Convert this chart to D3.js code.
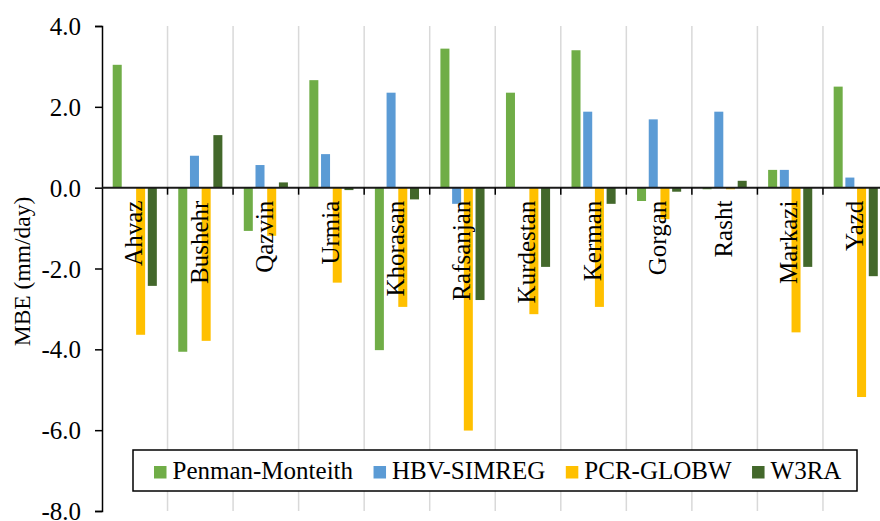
<!DOCTYPE html>
<html>
<head>
<meta charset="utf-8">
<script src="https://d3js.org/d3.v7.min.js"></script>
<style>
  body { margin: 0; background: #fff; }
  svg text { font-family: 'Liberation Serif', 'Times New Roman', 'DejaVu Serif', serif !important; }
</style>
</head>
<body>
<script>
// stations on the x axis
var stations = ["Ahvaz", "Bushehr", "Qazvin", "Urmia", "Khorasan", "Rafsanjan",
                "Kurdestan", "Kerman", "Gorgan", "Rasht", "Markazi", "Yazd"];
var seriesNames = ["Penman-Monteith", "HBV-SIMREG", "PCR-GLOBW", "W3RA"];
// MBE (mm/day) per station
var penman = [3.04, -4.06, -1.07, 2.66, -4.02, 3.44, 2.35, 3.40, -0.33, -0.04, 0.44, 2.50];
var hbv    = [0.00, 0.79, 0.56, 0.83, 2.35, -0.40, 0.00, 1.88, 1.69, 1.88, 0.44, 0.25];
var pcr    = [-3.64, -3.79, -1.19, -2.35, -2.95, -6.01, -3.13, -2.95, -0.78, -0.04, -3.58, -5.18];
var w3ra   = [-2.43, 1.30, 0.13, -0.06, -0.29, -2.78, -1.96, -0.40, -0.10, 0.17, -1.96, -2.19];
var yTicks = [-8, -6, -4, -2, 0, 2, 4];
var colors = ["#70ad47", "#5b9bd5", "#ffc000", "#43682b"];

var allSeries = [penman, hbv, pcr, w3ra];
var W = 880, H = 521;
var plot = {left: 102, right: 888.5, top: 26, bottom: 511};
var serif = "'Liberation Serif', 'Times New Roman', 'DejaVu Serif', serif";

var svg = d3.select("body").append("svg")
  .attr("width", W)
  .attr("height", H)
  .style("font-family", serif);

var x0 = d3.scaleBand()
  .domain(stations)
  .range([plot.left, plot.right])
  .padding(0);
var x1 = d3.scaleBand()
  .domain(seriesNames)
  .range([0, x0.bandwidth()])
  .paddingInner(0.23)
  .paddingOuter(0.915);
var y = d3.scaleLinear()
  .domain([-8, 4])
  .range([plot.bottom, plot.top]);
var color = d3.scaleOrdinal().domain(seriesNames).range(colors);

// vertical gridlines between stations
svg.append("g").selectAll("line")
  .data(stations.slice(1))
  .enter().append("line")
  .attr("x1", function(d){ return x0(d); })
  .attr("x2", function(d){ return x0(d); })
  .attr("y1", plot.top)
  .attr("y2", plot.bottom)
  .attr("stroke", "#d9d9d9")
  .attr("stroke-width", 1.5);

// bars
var rows = [];
stations.forEach(function(s, i){
  seriesNames.forEach(function(n, j){
    rows.push({station: s, series: n, value: allSeries[j][i]});
  });
});
svg.append("g").selectAll("rect")
  .data(rows)
  .enter().append("rect")
  .attr("x", function(d){ return x0(d.station) + x1(d.series); })
  .attr("width", x1.bandwidth())
  .attr("y", function(d){ return y(Math.max(0, d.value)); })
  .attr("height", function(d){ return Math.abs(y(d.value) - y(0)); })
  .attr("fill", function(d){ return color(d.series); });

// y axis
var yAx = d3.axisLeft(y)
  .tickValues(yTicks)
  .tickSize(7)
  .tickPadding(14)
  .tickFormat(function(d){ return d.toFixed(1); });
var yG = svg.append("g")
  .attr("transform", "translate(" + plot.left + ",0)")
  .call(yAx)
  .attr("font-family", serif);
yG.select(".domain").attr("stroke", "#000").attr("stroke-width", 1.5);
yG.selectAll(".tick line").attr("stroke", "#000").attr("stroke-width", 1.5);
yG.selectAll("text")
  .style("font-family", serif)
  .attr("font-size", 25)
  .attr("fill", "#000")
  .attr("dy", "0.34em");

// zero line with tick marks at station boundaries
svg.append("line")
  .attr("x1", plot.left).attr("x2", plot.right)
  .attr("y1", y(0)).attr("y2", y(0))
  .attr("stroke", "#1a1a1a")
  .attr("stroke-width", 2);
svg.append("g").selectAll("line")
  .data(stations.slice(1))
  .enter().append("line")
  .attr("x1", function(d){ return x0(d); })
  .attr("x2", function(d){ return x0(d); })
  .attr("y1", y(0))
  .attr("y2", y(0) + 7)
  .attr("stroke", "#000")
  .attr("stroke-width", 1.5);

// station labels, rotated, just under the zero line
svg.append("g").selectAll("text")
  .data(stations)
  .enter().append("text")
  .attr("transform", function(d){
    return "translate(" + (x0(d) + x0.bandwidth() / 2 - 1) + "," + (y(0) + 13) + ") rotate(-90)";
  })
  .attr("text-anchor", "end")
  .attr("dy", "0.33em")
  .attr("font-size", 25)
  .attr("fill", "#000")
  .style("font-family", serif)
  .text(function(d){ return d; });

// y axis title
svg.append("text")
  .attr("transform", "translate(30,271.5) rotate(-90)")
  .attr("text-anchor", "middle")
  .attr("font-size", 23.5)
  .attr("fill", "#000")
  .style("font-family", serif)
  .text("MBE (mm/day)");

// legend
var legend = svg.append("g");
legend.append("rect")
  .attr("x", 133).attr("y", 450)
  .attr("width", 724).attr("height", 41)
  .attr("fill", "#fff")
  .attr("stroke", "#000")
  .attr("stroke-width", 1.5);
var lx = 154;
seriesNames.forEach(function(n){
  legend.append("rect")
    .attr("x", lx).attr("y", 466)
    .attr("width", 12.5).attr("height", 12.5)
    .attr("fill", color(n));
  var t = legend.append("text")
    .attr("x", lx + 18.5).attr("y", 478.5)
    .attr("font-size", 25)
    .attr("fill", "#000")
    .style("font-family", serif)
    .text(n);
  lx = lx + 18.5 + t.node().getComputedTextLength() + 20.5;
});
</script>
</body>
</html>
